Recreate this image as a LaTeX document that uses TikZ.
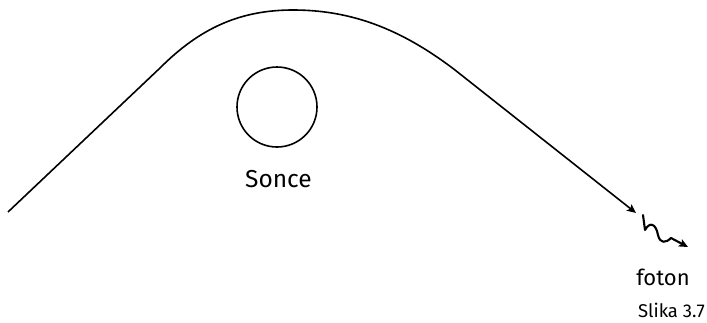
\documentclass[tikz,border=0pt]{standalone}
\usepackage{fontspec}
\setmainfont{Fira Sans}
\usetikzlibrary{arrows.meta}
\begin{document}
\begin{tikzpicture}[x=1pt,y=-1pt,
  ray/.style={line width=1.6pt,line join=round},
  wave/.style={line width=2.1pt,line join=round,line cap=round},
  tip/.style={-{Stealth[length=9pt,width=8pt,inset=2pt]}},
  lbl/.style={inner sep=0pt,font=\fontsize{24.5}{28}\selectfont},
  mid/.style={inner sep=0pt,font=\fontsize{22}{26}\selectfont},
  small/.style={inner sep=0pt,font=\fontsize{18.5}{22}\selectfont}]
\useasboundingbox (0,0) rectangle (707,322);
\coordinate (start) at (8,212);
\coordinate (bendL) at (160,68);
\coordinate (peak) at (293,10);
\coordinate (bendR) at (455,70);
\coordinate (end) at (636,213);
\draw[ray,tip] (start) -- (bendL) .. controls (200,28) and (240,10) .. (peak)
  .. controls (350,10) and (400,28) .. (bendR) -- (end);
\node[draw,circle,line width=1.6pt,minimum size=80pt,inner sep=0pt] (sun) at (277,107) {};
\node[lbl,anchor=base] (sonce) at (278.5,187) {Sonce};
\coordinate (w0) at (643,215);
\coordinate (w1) at (688,247);
\draw[wave,tip] (w0) -- (645,230) .. controls (650,221) and (656,224) .. (658,235)
  .. controls (660,244) and (666,243) .. (671,238) -- (w1);
\node[mid,anchor=base] (foton) at (663,285) {foton};
\node[small,anchor=base east] (slika) at (705,317) {Slika 3.7};
\end{tikzpicture}
\end{document}
